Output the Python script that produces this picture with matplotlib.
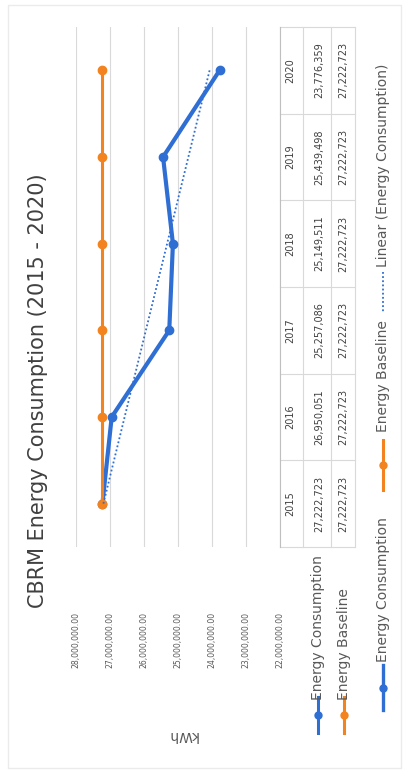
import matplotlib
matplotlib.use("Agg")
import matplotlib.pyplot as plt
import numpy as np
from matplotlib.lines import Line2D
from matplotlib.patches import Rectangle
from matplotlib.transforms import blended_transform_factory

years = ["2015", "2016", "2017", "2018", "2019", "2020"]
consumption = [27222723, 26950051, 25257086, 25149511, 25439498, 23776359]
baseline = [27222723, 27222723, 27222723, 27222723, 27222723, 27222723]
kwh_ticks = [22e6, 23e6, 24e6, 25e6, 26e6, 27e6, 28e6]
series_names = ["Energy Consumption", "Energy Baseline"]
trend_name = "Linear (Energy Consumption)"
title = "CBRM Energy Consumption (2015 - 2020)"

BLUE = "#2F6ED3"
ORANGE = "#F2831E"
GRID = "#D9D9D9"
TEXT = "#595959"
DARK = "#404040"

W, H = 409, 773


def box(x0, x1, y0, y1):
    """pixel box (y down) -> figure fraction rect"""
    return [x0 / W, 1 - y1 / H, (x1 - x0) / W, (y1 - y0) / H]


fig = plt.figure(figsize=(W / 100, H / 100), dpi=100)

# overlay in pixel coordinates, y pointing down (chart is rotated 90 deg)
ov = fig.add_axes([0, 0, 1, 1])
ov.set_xlim(0, W)
ov.set_ylim(H, 0)
ov.axis("off")
ov.add_patch(Rectangle((8, 5), 393, 763, fill=False, edgecolor="#EBEBEB", lw=1))

ax = fig.add_axes(box(76, 280, 27, 547))
ax.set_zorder(2)
ax.patch.set_alpha(0)

idx = np.arange(len(years))
ax.plot(consumption, idx, color=BLUE, lw=3, marker="o", ms=6, zorder=3)
ax.plot(baseline, idx, color=ORANGE, lw=2.2, marker="o", ms=6, zorder=4)
slope, icpt = np.polyfit(idx, consumption, 1)
ax.plot(slope * idx + icpt, idx, color=BLUE, lw=1.3, ls=(0, (1, 1.3)), zorder=5)

ax.set_xlim(28e6, 22e6)
ax.set_ylim(-0.5, 5.5)
ax.set_yticks([])
ax.set_xticks(kwh_ticks)
ax.set_xticklabels([f"{v:,.2f}" for v in kwh_ticks], rotation=90, fontsize=5.6,
                   color=TEXT)
ax.tick_params(axis="x", length=0, pad=47)
ax.grid(axis="x", color=GRID, lw=0.8)
for s in ["top", "bottom", "left"]:
    ax.spines[s].set_visible(False)
ax.spines["right"].set_color("#BFBFBF")

# title and axis title
ov.text(38, 391, title, rotation=90, ha="center", va="center", fontsize=15, color=DARK)
ov.text(182, 735, "kWh", rotation=180, ha="center", va="center", fontsize=10, color=TEXT)

# data table, aligned to category positions of the plot
tt = blended_transform_factory(ov.transData, ax.transData)
for i, yr in enumerate(years):
    ov.text(290, i, yr, transform=tt, rotation=90, ha="center", va="center",
            fontsize=7, color=DARK)
    ov.text(319, i, f"{consumption[i]:,}", transform=tt, rotation=90,
            ha="center", va="center", fontsize=7, color=DARK)
    ov.text(343, i, f"{baseline[i]:,}", transform=tt, rotation=90,
            ha="center", va="center", fontsize=7, color=DARK)
for b in np.arange(-0.5, len(years)):
    ov.plot([280, 355], [b, b], transform=tt, color=GRID, lw=0.8)
for xl in [303, 331, 355]:
    ov.plot([xl, xl], [-0.5, len(years) - 0.5], transform=tt, color=GRID, lw=0.8)

# row labels with legend keys
for xc, name, col in [(318, series_names[0], BLUE), (344, series_names[1], ORANGE)]:
    ov.add_line(Line2D([xc, xc], [697, 733], color=col, lw=2.2))
    ov.add_line(Line2D([xc], [715], color=col, marker="o", ms=5))
    ov.text(xc, 700, name, rotation=90, ha="center", va="bottom", fontsize=10, color=TEXT)

# legend along the bottom edge
ov.add_line(Line2D([383, 383], [665, 710], color=BLUE, lw=2.4))
ov.add_line(Line2D([383], [688], color=BLUE, marker="o", ms=5))
ov.text(383, 662, series_names[0], rotation=90, ha="center", va="bottom", fontsize=10, color=TEXT)
ov.add_line(Line2D([383, 383], [440, 490], color=ORANGE, lw=2.2))
ov.add_line(Line2D([383], [465], color=ORANGE, marker="o", ms=5))
ov.text(383, 432, series_names[1], rotation=90, ha="center", va="bottom", fontsize=10, color=TEXT)
ov.add_line(Line2D([383, 383], [272, 312], color=BLUE, lw=1.3, ls=(0, (1, 1.3))))
ov.text(383, 267, trend_name, rotation=90, ha="center", va="bottom", fontsize=10, color=TEXT)

fig.savefig("out.png", dpi=100)
